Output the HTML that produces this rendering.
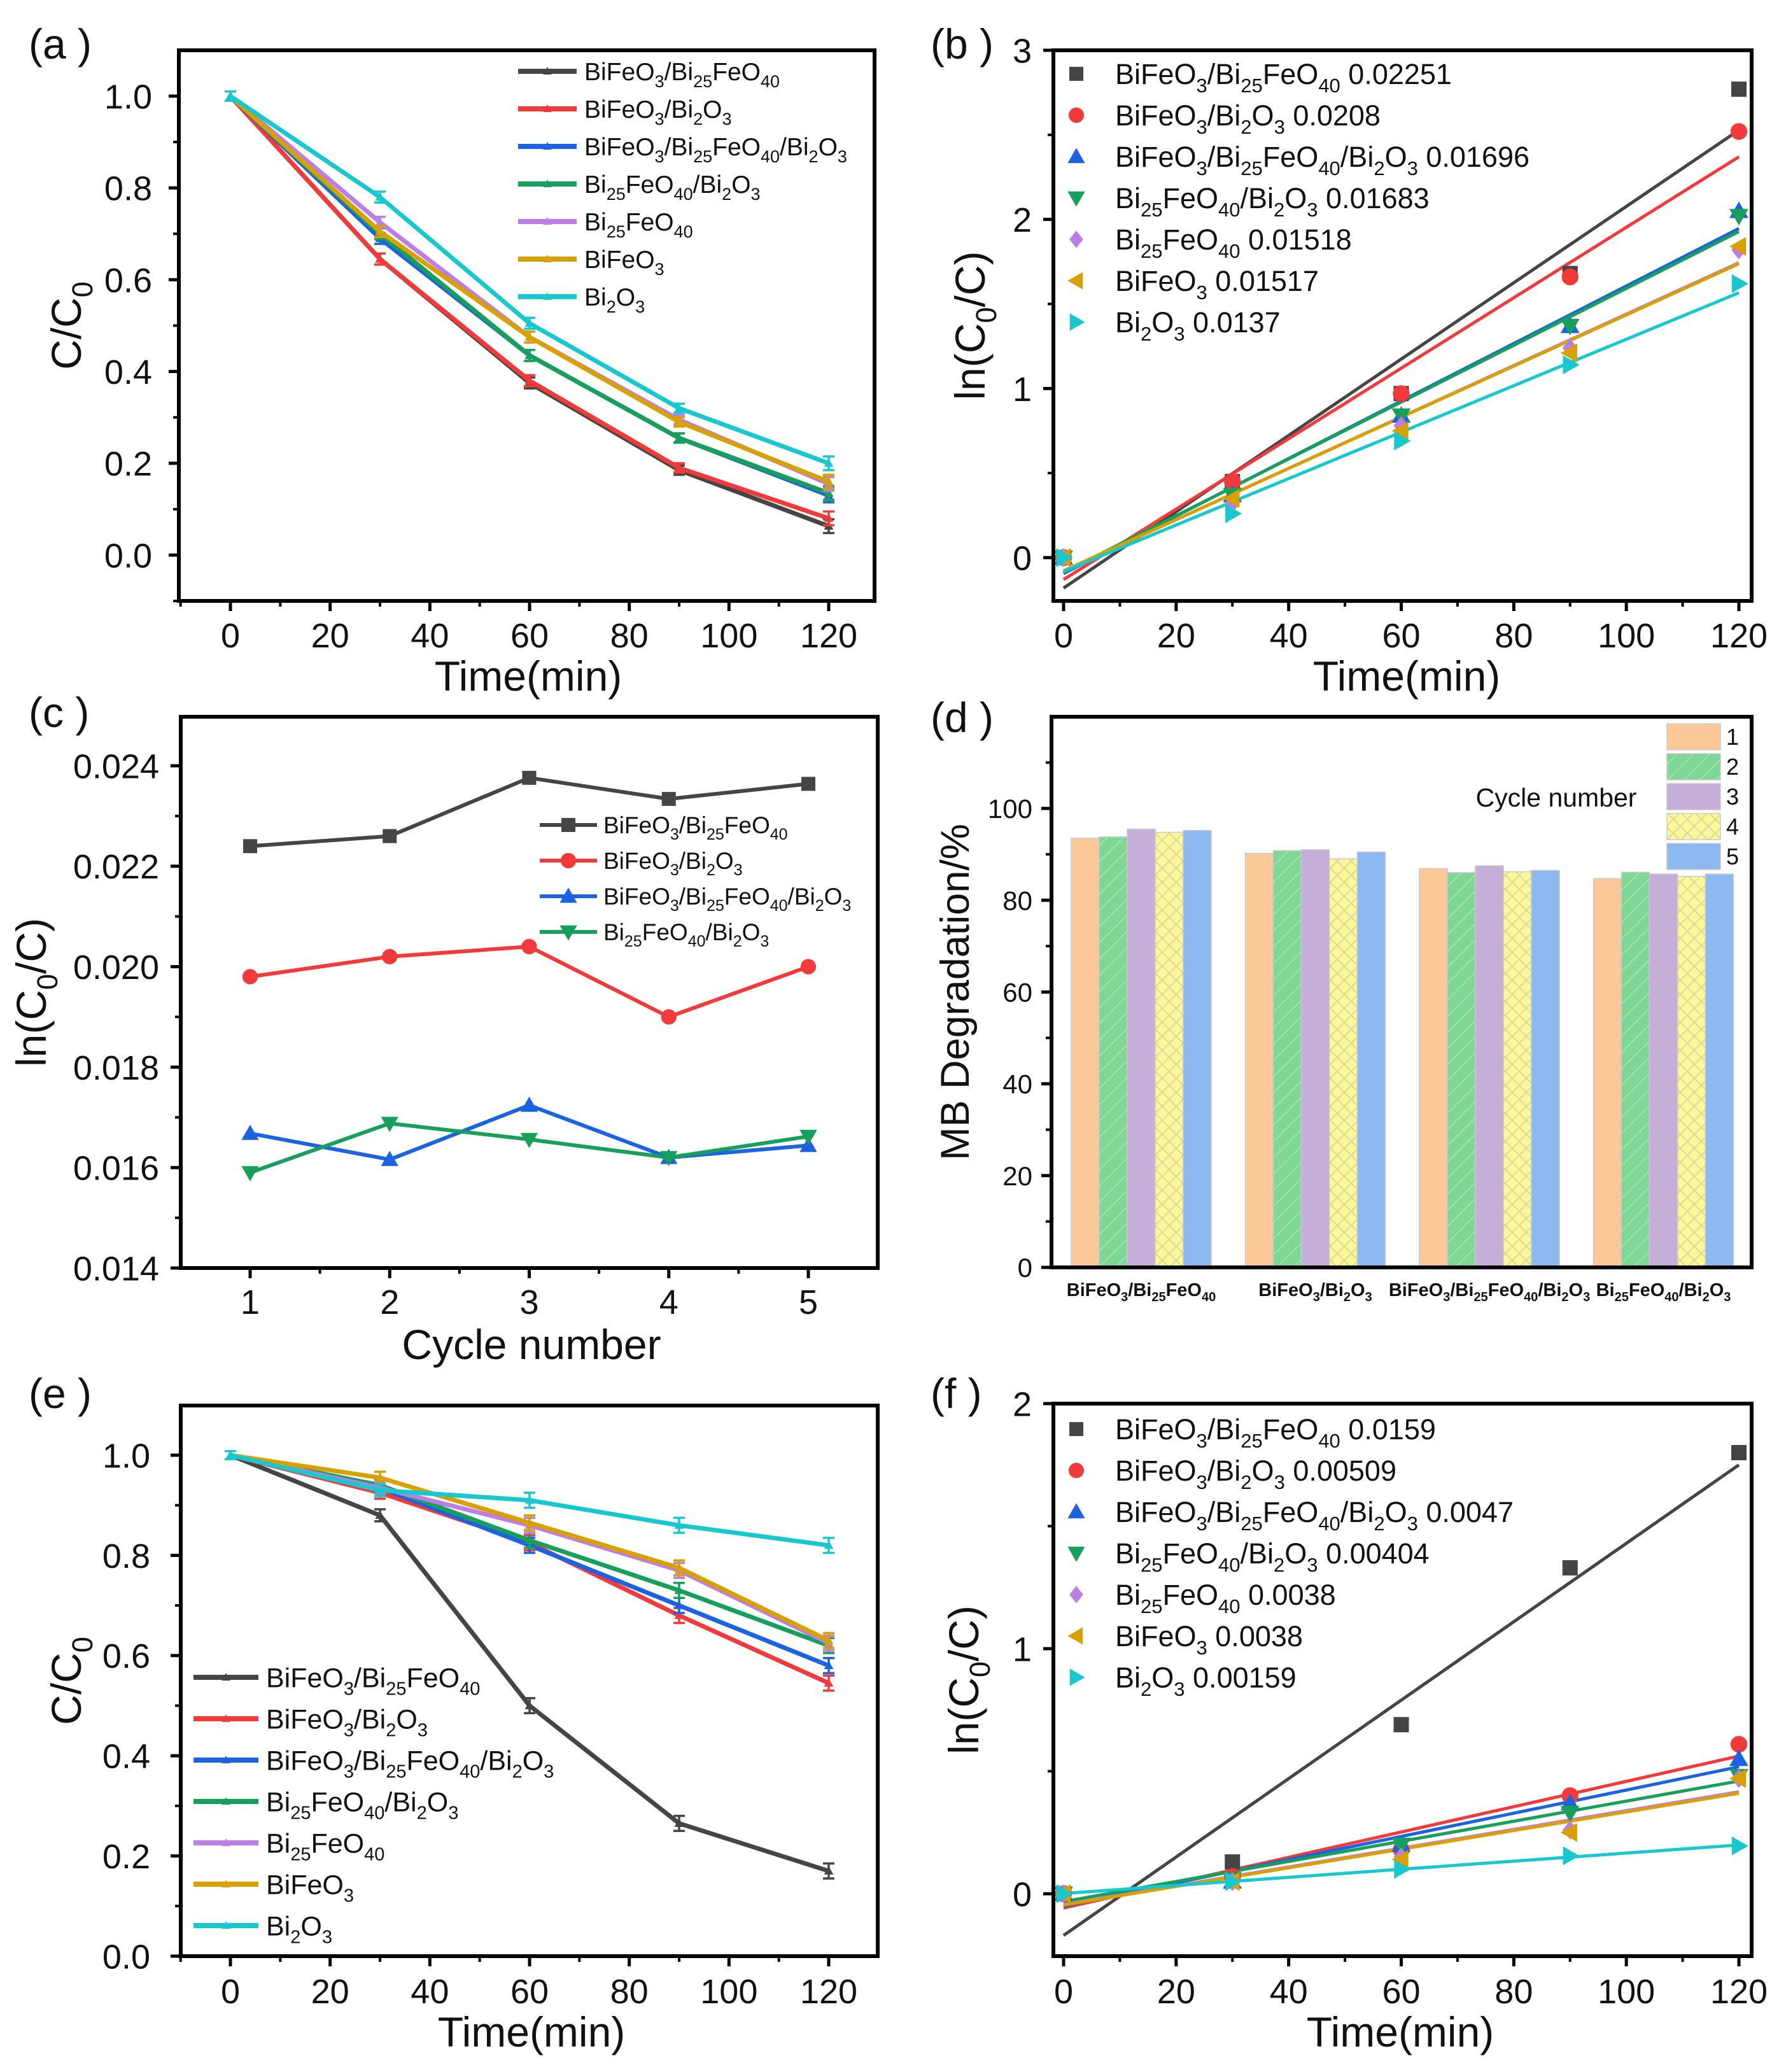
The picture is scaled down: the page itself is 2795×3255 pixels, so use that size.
<!DOCTYPE html>
<html><head><meta charset="utf-8"><style>
html,body{margin:0;padding:0;background:#fff;}
svg{display:block;font-family:"Liberation Sans",Arial,sans-serif;}
</style></head><body>
<svg id="fig" xmlns="http://www.w3.org/2000/svg" width="2795" height="3255" viewBox="0 0 2795 3255">
<defs>
<pattern id="hatch2" patternUnits="userSpaceOnUse" width="18" height="18" patternTransform="rotate(45)"><rect width="18" height="18" fill="#7fd796"/><line x1="0" y1="0" x2="0" y2="18" stroke="#a8e4b8" stroke-width="3"/></pattern>
<pattern id="hatch4" patternUnits="userSpaceOnUse" width="22" height="22"><rect width="22" height="22" fill="#fcf898"/><path d="M0,0L22,22M22,0L0,22" stroke="#d8d8a0" stroke-width="2"/></pattern>
</defs>
<rect x="0" y="0" width="2795" height="3255" fill="#fff"/>
</svg>
<script>
// ---------- DATA ----------
const timePts = [0, 30, 60, 90, 120];
const seriesNames = ['BiFeO_3/Bi_{25}FeO_{40}','BiFeO_3/Bi_2O_3','BiFeO_3/Bi_{25}FeO_{40}/Bi_2O_3','Bi_{25}FeO_{40}/Bi_2O_3','Bi_{25}FeO_{40}','BiFeO_3','Bi_2O_3'];
const seriesColors = ['#454545','#f23a3a','#1b63e0','#17a05c','#bb7de6','#d9a100','#18c8cf'];
// panel a: C/C0
const aBlack  = [1, 0.645, 0.375, 0.185, 0.063];
const aRed    = [1, 0.645, 0.380, 0.190, 0.080];
const aBlue   = [1, 0.690, 0.435, 0.255, 0.130];
const aGreen  = [1, 0.700, 0.435, 0.255, 0.135];
const aPurple = [1, 0.725, 0.475, 0.295, 0.155];
const aOrange = [1, 0.705, 0.475, 0.290, 0.160];
const aCyan   = [1, 0.780, 0.505, 0.320, 0.200];
const aErr    = [0.01, 0.012, 0.012, 0.01, 0.015];
// panel b: ln(C0/C)
const bBlack  = [0, 0.45, 0.97, 1.68, 2.77];
const bRed    = [0, 0.45, 0.97, 1.66, 2.52];
const bBlue   = [0, 0.37, 0.84, 1.37, 2.05];
const bGreen  = [0, 0.37, 0.84, 1.37, 2.02];
const bPurple = [0, 0.32, 0.78, 1.24, 1.82];
const bOrange = [0, 0.35, 0.75, 1.21, 1.84];
const bCyan   = [0, 0.26, 0.69, 1.14, 1.62];
const bRates  = ['0.02251','0.0208','0.01696','0.01683','0.01518','0.01517','0.0137'];
// panel c: rate constants vs cycle
const cycles = [1, 2, 3, 4, 5];
const cBlack = [0.0224, 0.0226, 0.02376, 0.02334, 0.02364];
const cRed   = [0.0198, 0.0202, 0.0204, 0.0190, 0.0200];
const cBlue  = [0.01668, 0.01616, 0.01724, 0.0162, 0.01644];
const cGreen = [0.0159, 0.01688, 0.01656, 0.0162, 0.01662];
// panel d: MB degradation %
const dCategories = ['BiFeO_3/Bi_{25}FeO_{40}','BiFeO_3/Bi_2O_3','BiFeO_3/Bi_{25}FeO_{40}/Bi_2O_3','Bi_{25}FeO_{40}/Bi_2O_3'];
const dCycle1 = [93.5, 90.2, 86.9, 84.7];
const dCycle2 = [93.8, 90.8, 86.0, 86.1];
const dCycle3 = [95.5, 91.0, 87.5, 85.7];
const dCycle4 = [94.8, 89.0, 86.2, 85.2];
const dCycle5 = [95.2, 90.5, 86.5, 85.7];
// panel e
const eBlack  = [1, 0.880, 0.500, 0.265, 0.170];
const eRed    = [1, 0.925, 0.825, 0.680, 0.545];
const eBlue   = [1, 0.935, 0.820, 0.700, 0.580];
const eGreen  = [1, 0.940, 0.830, 0.730, 0.620];
const ePurple = [1, 0.935, 0.860, 0.770, 0.625];
const eOrange = [1, 0.955, 0.865, 0.775, 0.630];
const eCyan   = [1, 0.930, 0.910, 0.860, 0.820];
const eErr    = [0.008, 0.012, 0.015, 0.015, 0.015];
// panel f
const fBlack  = [0, 0.13, 0.69, 1.33, 1.80];
const fRed    = [0, 0.07, 0.18, 0.40, 0.61];
const fBlue   = [0, 0.05, 0.20, 0.37, 0.55];
const fGreen  = [0, 0.06, 0.20, 0.33, 0.48];
const fPurple = [0, 0.05, 0.15, 0.26, 0.47];
const fOrange = [0, 0.05, 0.14, 0.25, 0.47];
const fCyan   = [0, 0.05, 0.10, 0.155, 0.195];
const fRates  = ['0.0159','0.00509','0.0047','0.00404','0.0038','0.0038','0.00159'];

// ---------- HELPERS ----------
const NS = 'http://www.w3.org/2000/svg';
const svg = document.getElementById('fig');
function mk(tag, attrs, name, parent) {
  const e = document.createElementNS(NS, tag);
  for (const k in attrs) e.setAttribute(k, attrs[k]);
  
  
  (parent || svg).appendChild(e);
  return e;
}
function chem(s, fs) {
  const d = Math.round(fs * 0.28);
  return s.replace(/_\{?(\d+)\}?/g, (m, n) => `<tspan dy="${d}" font-size="${Math.round(fs*0.68)}">${n}</tspan><tspan dy="-${d}">\u200b</tspan>`);
}
function txt(x, y, s, fs, opts, name, parent) {
  const a = Object.assign({x: x, y: y, 'font-size': fs, fill: '#111'}, opts || {});
  const t = mk('text', a, name, parent);
  t.innerHTML = chem(s, fs);
  return t;
}
function lin(v1, p1, v2, p2) { return v => p1 + (v - v1) * (p2 - p1) / (v2 - v1); }

function axes(P) {
  const g = mk('g', {}, P.id + '-axes');
  P.yMinor.forEach(v => { const y = P.ys(v); mk('line', {x1: P.L, x2: P.L - 9, y1: y, y2: y, stroke: '#000', 'stroke-width': 4}, 'y-minor-tick', g); });
  P.yMajor.forEach((v, i) => {
    const y = P.ys(v);
    mk('line', {x1: P.L, x2: P.L - 16, y1: y, y2: y, stroke: '#000', 'stroke-width': 5}, 'y-major-tick', g);
    txt(P.L - P.yLabGap, y + P.yFs * 0.36, P.yLabels[i], P.yFs, {'text-anchor': 'end'}, 'y-tick-label', g);
  });
  if (P.xMajor) {
    P.xMinor.forEach(v => { const x = P.xs(v); mk('line', {x1: x, x2: x, y1: P.B, y2: P.B + 9, stroke: '#000', 'stroke-width': 4}, 'x-minor-tick', g); });
    P.xMajor.forEach((v, i) => {
      const x = P.xs(v);
      mk('line', {x1: x, x2: x, y1: P.B, y2: P.B + 16, stroke: '#000', 'stroke-width': 5}, 'x-major-tick', g);
      txt(x, P.xLabY, P.xLabels[i], 54, {'text-anchor': 'middle'}, 'x-tick-label', g);
    });
  }
  mk('rect', {x: P.L, y: P.T, width: P.R - P.L, height: P.B - P.T, fill: 'none', stroke: '#000', 'stroke-width': 6}, P.id + '-frame', g);
  if (P.xTitle) txt(P.xTitleX, P.xTitleY, P.xTitle, 66, {'text-anchor': 'middle'}, 'x-axis-title', g);
  txt(0, 0, P.yTitle, P.yTitleFs || 66, {'text-anchor': 'middle', transform: `translate(${P.yTitleX},${(P.T + P.B) / 2}) rotate(-90)`}, 'y-axis-title', g);
  txt(P.labX, P.labY, '(' + P.id + ' )', 66, {}, 'panel-label', g);
}
function marker(type, x, y, s, color, parent) {
  let d;
  if (type === 0) return mk('rect', {x: x - s/2, y: y - s/2, width: s, height: s, fill: color}, 'square-marker', parent);
  if (type === 1) return mk('circle', {cx: x, cy: y, r: s * 0.55, fill: color}, 'circle-marker', parent);
  const r = s * 0.62;
  if (type === 2) d = `M${x},${y-r}L${x+r},${y+r*0.75}L${x-r},${y+r*0.75}Z`;
  if (type === 3) d = `M${x},${y+r}L${x+r},${y-r*0.75}L${x-r},${y-r*0.75}Z`;
  if (type === 4) d = `M${x},${y-r}L${x+r*0.8},${y}L${x},${y+r}L${x-r*0.8},${y}Z`;
  if (type === 5) d = `M${x-r},${y}L${x+r*0.75},${y-r}L${x+r*0.75},${y+r}Z`;
  if (type === 6) d = `M${x+r},${y}L${x-r*0.75},${y-r}L${x-r*0.75},${y+r}Z`;
  return mk('path', {d: d, fill: color}, 'marker', parent);
}
function fit(xs, ys) {
  const n = xs.length, mx = xs.reduce((a,b)=>a+b)/n, my = ys.reduce((a,b)=>a+b)/n;
  let sxy = 0, sxx = 0;
  for (let i = 0; i < n; i++) { sxy += (xs[i]-mx)*(ys[i]-my); sxx += (xs[i]-mx)**2; }
  const k = sxy / sxx; return [k, my - k * mx];
}

function linePanel(P, data, err, legend) {
  const g = mk('g', {}, P.id + '-series');
  data.forEach((ser, si) => {
    const pts = ser.map((v, i) => P.xs(timePts[i]) + ',' + P.ys(v)).join(' ');
    const c = seriesColors[si];
    mk('polyline', {points: pts, fill: 'none', stroke: c, 'stroke-width': 7, 'stroke-linejoin': 'round'}, 'series-line', g);
    ser.forEach((v, i) => {
      const x = P.xs(timePts[i]), y1 = P.ys(v + err[i]), y2 = P.ys(v - err[i]);
      mk('path', {d: `M${x-9},${y1}H${x+9}M${x},${y1}V${y2}M${x-9},${y2}H${x+9}`, stroke: c, 'stroke-width': 3.5, fill: 'none'}, 'error-bar', g);
      marker(2, x, P.ys(v), 12, c, g);
    });
  });
  const lg = mk('g', {}, 'legend');
  seriesNames.forEach((nm, i) => {
    const y = legend.y0 + i * legend.dy;
    mk('line', {x1: legend.x1, x2: legend.x2, y1: y, y2: y, stroke: seriesColors[i], 'stroke-width': 8}, 'legend-line', lg);
    marker(2, (legend.x1 + legend.x2) / 2, y, 11, seriesColors[i], lg);
    txt(legend.tx, y + legend.fs * 0.36, nm, legend.fs, {}, 'legend-entry', lg);
  });
}
function fitPanel(P, data, rates, legend) {
  const g = mk('g', {}, P.id + '-series');
  data.forEach((ser, si) => {
    const c = seriesColors[si];
    const [k, b] = fit(timePts, ser);
    mk('line', {x1: P.xs(0), y1: P.ys(b), x2: P.xs(120), y2: P.ys(b + k * 120), stroke: c, 'stroke-width': 5}, 'fit-line', g);
  });
  data.forEach((ser, si) => {
    ser.forEach((v, i) => marker(si, P.xs(timePts[i]), P.ys(v), 24, seriesColors[si], g));
  });
  const lg = mk('g', {}, 'legend');
  seriesNames.forEach((nm, i) => {
    const y = legend.y0 + i * legend.dy;
    marker(i, legend.mx, y, 22, seriesColors[i], lg);
    txt(legend.tx, y + 16, nm + ' ' + rates[i], 45, {}, 'legend-entry', lg);
  });
}

// ---------- PANEL A ----------
const PA = {id: 'a', L: 281, R: 1374, T: 79, B: 944, xs: lin(0, 362, 120, 1302), ys: lin(0, 872, 1, 151),
  yMajor: [0, 0.2, 0.4, 0.6, 0.8, 1.0], yLabels: ['0.0','0.2','0.4','0.6','0.8','1.0'], yMinor: [-0.1,0.1,0.3,0.5,0.7,0.9], yLabGap: 42, yFs: 54,
  xMajor: [0,20,40,60,80,100,120], xLabels: ['0','20','40','60','80','100','120'], xMinor: [-10,10,30,50,70,90,110], xLabY: 1017,
  xTitle: 'Time(min)', xTitleX: 830, xTitleY: 1085, yTitle: 'C/C_0', yTitleX: 127, labX: 45, labY: 92};
linePanel(PA, [aBlack, aRed, aBlue, aGreen, aPurple, aOrange, aCyan], aErr, {x1: 814, x2: 906, tx: 918, y0: 112, dy: 59, fs: 39});
axes(PA);

// ---------- PANEL B ----------
const PB = {id: 'b', L: 1655, R: 2752, T: 79, B: 944, xs: lin(0, 1671, 120, 2732), ys: lin(0, 876, 3, 79),
  yMajor: [0,1,2,3], yLabels: ['0','1','2','3'], yMinor: [0.5,1.5,2.5], yLabGap: 34, yFs: 54,
  xMajor: [0,20,40,60,80,100,120], xLabels: ['0','20','40','60','80','100','120'], xMinor: [10,30,50,70,90,110], xLabY: 1017,
  xTitle: 'Time(min)', xTitleX: 2210, xTitleY: 1085, yTitle: 'ln(C_0/C)', yTitleX: 1547, labX: 1462, labY: 92};
fitPanel(PB, [bBlack, bRed, bBlue, bGreen, bPurple, bOrange, bCyan], bRates, {mx: 1691, tx: 1752, y0: 116, dy: 65});
axes(PB);

// ---------- PANEL C ----------
const PC = {id: 'c', L: 284, R: 1379, T: 1126, B: 1992, xs: lin(1, 393, 5, 1270), ys: lin(0.014, 1992, 0.024, 1203),
  yMajor: [0.014,0.016,0.018,0.020,0.022,0.024], yLabels: ['0.014','0.016','0.018','0.020','0.022','0.024'], yMinor: [0.015,0.017,0.019,0.021,0.023], yLabGap: 34, yFs: 54,
  xMajor: cycles, xLabels: ['1','2','3','4','5'], xMinor: [1.5,2.5,3.5,4.5], xLabY: 2064,
  xTitle: 'Cycle number', xTitleX: 835, xTitleY: 2135, yTitle: 'ln(C_0/C)', yTitleX: 72, labX: 45, labY: 1142};
(function() {
  const g = mk('g', {}, 'c-series');
  [cBlack, cRed, cBlue, cGreen].forEach((ser, si) => {
    const pts = ser.map((v, i) => PC.xs(cycles[i]) + ',' + PC.ys(v)).join(' ');
    mk('polyline', {points: pts, fill: 'none', stroke: seriesColors[si], 'stroke-width': 6}, 'series-line', g);
    ser.forEach((v, i) => marker(si === 3 ? 3 : si, PC.xs(cycles[i]), PC.ys(v), 22, seriesColors[si], g));
  });
  const lg = mk('g', {}, 'legend');
  [0,1,2,3].forEach(i => {
    const y = 1296 + i * 56;
    mk('line', {x1: 848, x2: 938, y1: y, y2: y, stroke: seriesColors[i], 'stroke-width': 6}, 'legend-line', lg);
    marker(i === 3 ? 3 : i, 893, y, 22, seriesColors[i], lg);
    txt(948, y + 13, seriesNames[i], 37, {}, 'legend-entry', lg);
  });
})();
axes(PC);

// ---------- PANEL D ----------
const PD = {id: 'd', L: 1652, R: 2752, T: 1126, B: 1991, ys: lin(0, 1991, 100, 1270),
  yMajor: [0,20,40,60,80,100], yLabels: ['0','20','40','60','80','100'], yMinor: [10,30,50,70,90,110], yLabGap: 30, yFs: 42,
  yTitle: 'MB Degradation/%', yTitleFs: 63, yTitleX: 1522, labX: 1462, labY: 1150};
(function() {
  const fills = ['#fcc898', 'url(#hatch2)', '#c5aed8', 'url(#hatch4)', '#8cb9ef'];
  const cyc = [dCycle1, dCycle2, dCycle3, dCycle4, dCycle5];
  const g = mk('g', {}, 'd-bars');
  const groupW = 273.5, barW = 44;
  dCategories.forEach((cat, ci) => {
    const cx = 1793 + groupW * ci;
    cyc.forEach((arr, k) => {
      const x = cx + (k - 2.5) * barW, y = PD.ys(arr[ci]);
      mk('rect', {x: x, y: y, width: barW, height: PD.B - y, fill: fills[k], stroke: '#c8c8c8', 'stroke-width': 1.5}, 'bar-cycle' + (k + 1), g);
    });
    txt(cx, 2036, cat, 29, {'text-anchor': 'middle', 'font-weight': 'bold'}, 'category-label', g);
  });
  const legFills = ['#fcc898', 'url(#hatch2)', '#c5aed8', 'url(#hatch4)', '#8cb9ef'];
  const lg = mk('g', {}, 'legend');
  legFills.forEach((f, k) => {
    const y = 1137 + k * 47;
    mk('rect', {x: 2619, y: y, width: 84, height: 41, fill: f, stroke: '#c8c8c8', 'stroke-width': 1.5}, 'legend-swatch', lg);
    txt(2712, y + 33, String(k + 1), 36, {}, 'legend-entry', lg);
  });
  txt(2445, 1267, 'Cycle number', 41, {'text-anchor': 'middle'}, 'legend-title', lg);
})();
axes(PD);

// ---------- PANEL E ----------
const PE = {id: 'e', L: 284, R: 1379, T: 2208, B: 3073, xs: lin(0, 362, 120, 1302), ys: lin(0, 3073, 1, 2286),
  yMajor: [0, 0.2, 0.4, 0.6, 0.8, 1.0], yLabels: ['0.0','0.2','0.4','0.6','0.8','1.0'], yMinor: [0.1,0.3,0.5,0.7,0.9], yLabGap: 48, yFs: 54,
  xMajor: [0,20,40,60,80,100,120], xLabels: ['0','20','40','60','80','100','120'], xMinor: [-10,10,30,50,70,90,110], xLabY: 3147,
  xTitle: 'Time(min)', xTitleX: 835, xTitleY: 3215, yTitle: 'C/C_0', yTitleX: 127, labX: 45, labY: 2212};
linePanel(PE, [eBlack, eRed, eBlue, eGreen, ePurple, eOrange, eCyan], eErr, {x1: 304, x2: 406, tx: 418, y0: 2635, dy: 65, fs: 43});
axes(PE);

// ---------- PANEL F ----------
const PF = {id: 'f', L: 1655, R: 2752, T: 2205, B: 3073, xs: lin(0, 1671, 120, 2732), ys: lin(0, 2975, 2, 2205),
  yMajor: [0,1,2], yLabels: ['0','1','2'], yMinor: [0.5,1.5], yLabGap: 34, yFs: 54,
  xMajor: [0,20,40,60,80,100,120], xLabels: ['0','20','40','60','80','100','120'], xMinor: [10,30,50,70,90,110], xLabY: 3147,
  xTitle: 'Time(min)', xTitleX: 2200, xTitleY: 3215, yTitle: 'ln(C_0/C)', yTitleX: 1537, labX: 1462, labY: 2212};
fitPanel(PF, [fBlack, fRed, fBlue, fGreen, fPurple, fOrange, fCyan], fRates, {mx: 1691, tx: 1752, y0: 2245, dy: 65});
axes(PF);
</script>
</body></html>
